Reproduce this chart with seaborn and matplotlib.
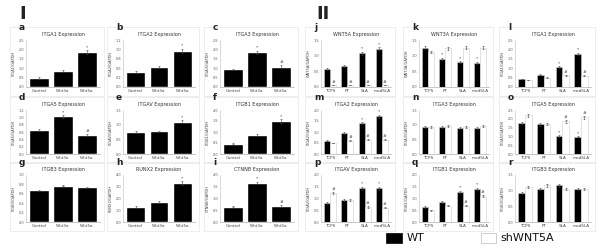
import seaborn as sns
import matplotlib.pyplot as plt
import pandas as pd
from matplotlib.patches import Rectangle

# categories
left_cats = ['Control', 'Wnt3a', 'Wnt5a']
right_cats = ['TCPS', 'PT', 'SLA', 'modSLA']
groups = ['WT', 'shWNT5A']

# panel I (a-i): gene, ymax, tick step, values, errors, marks
a_vals = [0.48, 0.85, 1.85]
b_vals = [0.40, 0.54, 0.96]
c_vals = [0.95, 1.85, 1.08]
d_vals = [0.66, 1.03, 0.52]
e_vals = [0.75, 0.78, 1.10]
f_vals = [0.46, 0.86, 1.50]
g_vals = [0.68, 0.77, 0.74]
h_vals = [1.28, 1.72, 3.32]
i_vals = [0.64, 1.66, 0.68]

left_panels = [
    ('a', 'ITGA1', 2.5, 0.5, a_vals, [0.04, 0.05, 0.12], ['', '', '*']),
    ('b', 'ITGA2', 1.25, 0.25, b_vals, [0.02, 0.03, 0.06], ['', '', '*']),
    ('c', 'ITGA3', 2.5, 0.5, c_vals, [0.03, 0.08, 0.07], ['', '*', '#']),
    ('d', 'ITGA5', 1.2, 0.2, d_vals, [0.02, 0.04, 0.03], ['', '*', '#']),
    ('e', 'ITGAV', 1.5, 0.5, e_vals, [0.02, 0.02, 0.06], ['', '', '*']),
    ('f', 'ITGB1', 2.0, 0.5, f_vals, [0.02, 0.03, 0.08], ['', '', '*']),
    ('g', 'ITGB3', 1.0, 0.2, g_vals, [0.01, 0.01, 0.01], ['', '', '']),
    ('h', 'RUNX2', 4.0, 1.0, h_vals, [0.05, 0.08, 0.15], ['', '', '*']),
    ('i', 'CTNNB', 2.0, 0.5, i_vals, [0.02, 0.06, 0.04], ['', '*', '#']),
]

# panel II (j-r): WT and shWNT5A values
j_wt = [0.57, 0.68, 1.08, 1.22]
j_sh = [0.05, 0.05, 0.05, 0.05]
k_wt = [1.25, 0.90, 0.80, 0.78]
k_sh = [1.12, 1.23, 1.26, 1.26]
l_wt = [0.43, 0.65, 1.08, 1.75]
l_sh = [0.38, 0.50, 0.62, 0.60]
m_wt = [0.60, 0.96, 1.40, 1.72]
m_sh = [0.50, 0.60, 0.64, 0.64]
n_wt = [0.92, 0.93, 0.90, 0.88]
n_sh = [0.92, 0.95, 0.93, 0.95]
o_wt = [1.75, 1.68, 1.02, 0.98]
o_sh = [2.20, 1.72, 1.85, 2.10]
p_wt = [0.80, 0.94, 1.44, 1.44]
p_sh = [1.24, 0.94, 0.64, 0.60]
q_wt = [0.64, 0.86, 1.28, 1.40]
q_sh = [0.50, 0.70, 0.70, 1.10]
r_wt = [0.93, 1.05, 1.18, 1.05]
r_sh = [1.12, 1.17, 1.05, 1.05]

right_panels = [
    ('j', 'WNT5A', 1.5, 0.5, j_wt, j_sh, ['', '', '*', '*'], ['#', '#', '#', '#']),
    ('k', 'WNT3A', 1.5, 0.5, k_wt, k_sh, ['', '*', '*', '*'], ['', '', '', '']),
    ('l', 'ITGA1', 2.5, 0.5, l_wt, l_sh, ['', '', '*', '*'], ['', '', '#', '#']),
    ('m', 'ITGA2', 2.0, 0.5, m_wt, m_sh, ['', '', '*', '*'], ['', '#', '#', '#']),
    ('n', 'ITGA3', 1.5, 0.5, n_wt, n_sh, ['', '', '', ''], ['', '', '', '']),
    ('o', 'ITGA5', 2.5, 0.5, o_wt, o_sh, ['', '', '*', '*'], ['', '', '#', '#']),
    ('p', 'ITGAV', 2.0, 0.5, p_wt, p_sh, ['', '', '*', '*'], ['#', '', '#', '#']),
    ('q', 'ITGB1', 2.0, 0.5, q_wt, q_sh, ['', '', '*', '*'], ['', '', '#', '#']),
    ('r', 'ITGB3', 1.5, 0.5, r_wt, r_sh, ['', '', '', ''], ['', '', '', '']),
]

W, H = 602, 252
col_left = [26, 123, 220, 321, 419, 515]
col_width = [74, 72, 74, 70, 70, 76]
row_top = [40, 110, 175]
row_bot = [87, 154, 222]

sns.set_style('white')
plt.rcParams['font.family'] = ['DejaVu Sans']
fig = plt.figure(figsize=(W / 100, H / 100), dpi=100)


def make_axes(col, row, letter):
    l, w = col_left[col], col_width[col]
    t, b = row_top[row], row_bot[row]
    # light chart-area frame like the spreadsheet charts
    fig.patches.append(Rectangle(((l - 16) / W, 1 - (b + 9) / H), (w + 20) / W, (b - t + 22) / H,
                                 transform=fig.transFigure, fill=False, ec='#e6e6e6', lw=0.5))
    fig.text((l - 7) / W, 1 - (t - 10) / H, letter, fontsize=6.5, fontweight='bold', color='#222222')
    return fig.add_axes([l / W, 1 - b / H, w / W, (b - t) / H])


def style_axes(ax, gene, ymax, step):
    ax.set_ylim(0, ymax)
    n = int(round(ymax / step))
    ax.set_yticks([step * k for k in range(n + 1)])
    ax.set_yticklabels([f'{step * k:.1f}' for k in range(n + 1)], fontsize=2.5, color='#555555')
    ax.tick_params(axis='x', labelsize=3, length=0, pad=1.5, colors='#444444')
    ax.tick_params(axis='y', length=0, pad=1.5)
    ax.set_xlabel('')
    ax.set_ylabel(f'{gene}/GAPDH', fontsize=2.6, labelpad=2, color='#444444')
    ax.set_title(f'{gene} Expression', fontsize=3.5, pad=3, color='#333333')
    for s in ['top', 'right']:
        ax.spines[s].set_visible(False)
    ax.spines['left'].set_color('#bbbbbb')
    ax.spines['bottom'].set_color('#999999')
    ax.spines['left'].set_linewidth(0.4)
    ax.spines['bottom'].set_linewidth(0.4)


def annotate(ax, bars, errs, marks):
    xs = [p.get_x() + p.get_width() / 2 for p in bars]
    ys = [p.get_height() for p in bars]
    ax.errorbar(xs, ys, yerr=errs, fmt='none', ecolor='#444444', elinewidth=0.4, capsize=0.8, capthick=0.4)
    top = ax.get_ylim()[1]
    for x, y, e, m in zip(xs, ys, errs, marks):
        if m:
            ax.text(x, y + e + top * 0.02, m, ha='center', va='bottom', fontsize=3.2, color='#333333')


for idx, (letter, gene, ymax, step, vals, errs, marks) in enumerate(left_panels):
    ax = make_axes(idx % 3, idx // 3, letter)
    sns.barplot(x=left_cats, y=vals, color='black', width=0.8, saturation=1, ax=ax)
    style_axes(ax, gene, ymax, step)
    annotate(ax, ax.patches[:3], errs, marks)

for idx, (letter, gene, ymax, step, wt, sh, m_wt, m_sh) in enumerate(right_panels):
    ax = make_axes(3 + idx % 3, idx // 3, letter)
    df = pd.DataFrame({'cond': right_cats * 2, 'group': ['WT'] * 4 + ['shWNT5A'] * 4, 'val': wt + sh})
    sns.barplot(data=df, x='cond', y='val', hue='group', hue_order=groups,
                palette={'WT': 'black', 'shWNT5A': 'white'}, saturation=1, width=0.7,
                edgecolor='#cccccc', linewidth=0.4, legend=False, ax=ax)
    style_axes(ax, gene, ymax, step)
    bars = ax.patches[:8]
    annotate(ax, bars[:4], [v * 0.04 for v in wt], m_wt)
    annotate(ax, bars[4:], [v * 0.04 for v in sh], m_sh)

# group labels
fig.text(19 / W, 1 - 19 / H, 'I', fontsize=13, fontweight='bold', color='#222222')
fig.text(316 / W, 1 - 19 / H, 'II', fontsize=13, fontweight='bold', color='#222222')

# legend
fig.patches.append(Rectangle((386 / W, 1 - 243 / H), 16 / W, 10 / H, transform=fig.transFigure,
                             fc='black', ec='black', lw=0.5))
fig.text(407 / W, 1 - 238 / H, 'WT', fontsize=8, va='center', color='#111111')
fig.patches.append(Rectangle((481 / W, 1 - 243 / H), 15 / W, 10 / H, transform=fig.transFigure,
                             fc='white', ec='#bbbbbb', lw=0.5))
fig.text(500 / W, 1 - 238 / H, 'shWNT5A', fontsize=8, va='center', color='#111111')

fig.savefig('out.png', dpi=100)
